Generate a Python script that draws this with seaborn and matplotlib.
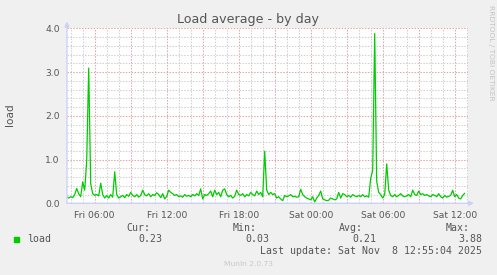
import matplotlib
matplotlib.use("Agg")
import matplotlib.pyplot as plt
import matplotlib.dates as mdates
import matplotlib.patches as mpatches
import matplotlib.ticker as mticker
import seaborn as sns
import pandas as pd
import numpy as np

# ---- data (5-min RRD samples read at ~10 min resolution) ----
start_time = "2025-11-07 03:40"
sample_step = "10min"
load_values = [
    0.14, 0.12,                              # Fri 03:40-03:50
    0.15, 0.13, 0.20, 0.34, 0.22, 0.15,      # 04
    0.49, 0.30, 0.97, 3.09, 0.45, 0.22,      # 05
    0.18, 0.20, 0.17, 0.46, 0.20, 0.12,      # 06
    0.18, 0.12, 0.20, 0.14, 0.72, 0.20,      # 07
    0.12, 0.15, 0.18, 0.13, 0.20, 0.16,      # 08
    0.25, 0.18, 0.15, 0.20, 0.14, 0.18,      # 09
    0.30, 0.20, 0.17, 0.22, 0.15, 0.20,      # 10
    0.18, 0.24, 0.20, 0.13, 0.22, 0.10,      # 11
    0.16, 0.30, 0.25, 0.22, 0.18, 0.20,      # 12
    0.15, 0.17, 0.14, 0.20, 0.16, 0.18,      # 13
    0.15, 0.20, 0.17, 0.22, 0.18, 0.33,      # 14
    0.10, 0.20, 0.18, 0.22, 0.28, 0.15,      # 15
    0.30, 0.20, 0.25, 0.15, 0.30, 0.33,      # 16
    0.20, 0.15, 0.18, 0.12, 0.16, 0.30,      # 17
    0.20, 0.18, 0.22, 0.15, 0.20, 0.17,      # 18
    0.25, 0.20, 0.17, 0.28, 0.20, 0.25,      # 19
    0.15, 1.19, 0.30, 0.20, 0.25, 0.20,      # 20
    0.22, 0.12, 0.15, 0.10, 0.06, 0.18,      # 21
    0.15, 0.17, 0.20, 0.15, 0.16, 0.14,      # 22
    0.15, 0.32, 0.20, 0.15, 0.12, 0.10,      # 23
    0.08, 0.15, 0.03, 0.12, 0.18, 0.28,      # Sat 00
    0.10, 0.08, 0.06, 0.07, 0.12, 0.10,      # 01
    0.08, 0.10, 0.25, 0.12, 0.22, 0.20,      # 02
    0.15, 0.18, 0.14, 0.20, 0.17, 0.15,      # 03
    0.18, 0.15, 0.20, 0.15, 0.17, 0.14,      # 04
    0.57, 0.75, 3.88, 0.50, 0.25, 0.20,      # 05
    0.12, 0.20, 0.90, 0.30, 0.18, 0.15,      # 06
    0.20, 0.15, 0.18, 0.22, 0.17, 0.15,      # 07
    0.17, 0.20, 0.15, 0.30, 0.20, 0.18,      # 08
    0.28, 0.20, 0.22, 0.18, 0.20, 0.17,      # 09
    0.15, 0.20, 0.18, 0.15, 0.22, 0.15,      # 10
    0.12, 0.18, 0.14, 0.16, 0.18, 0.30,      # 11
    0.15, 0.20, 0.12, 0.10, 0.18, 0.23,      # 12
]
view_start = "2025-11-07 03:41:30"
view_end = "2025-11-08 13:06:30"
y_ticks = [0.0, 1.0, 2.0, 3.0, 4.0]
series_name = "load"
stat_labels = ["Cur:", "Min:", "Avg:", "Max:"]
stat_values = ["0.23", "0.03", "0.21", "3.88"]
title = "Load average - by day"
last_update = "Last update: Sat Nov  8 12:55:04 2025"
footer = "Munin 2.0.73"
side_text = "RRDTOOL / TOBI OETIKER"

times = pd.date_range(start_time, periods=len(load_values), freq=sample_step)
df = pd.DataFrame({"time": times, "load": load_values})

# ---- style ----
sns.set_style("white")
plt.rcParams["font.family"] = ["DejaVu Sans"]
W, H = 497, 275
TXT = "#555555"
AXC = "#ccd2f6"
MGRID = "#e2a6a6"
GRID = "#d0d0d0"
GREEN = "#00cc00"

fig = plt.figure(figsize=(W / 100, H / 100), dpi=100, facecolor="#f0f0f0")
L, R, T, B = 67, 468, 28.3, 203.3
ax = fig.add_axes([L / W, (H - B) / H, (R - L) / W, (B - T) / H])
ax.set_facecolor("white")

sns.lineplot(data=df, x="time", y="load", ax=ax, color=GREEN, linewidth=0.9)

ax.set_xlim(pd.Timestamp(view_start), pd.Timestamp(view_end))
ax.set_ylim(0, 4)
ax.set_xlabel("")
ax.set_ylabel("")

ax.xaxis.set_major_locator(mdates.HourLocator(byhour=range(0, 24, 3)))
ax.xaxis.set_minor_locator(mdates.HourLocator())


def fmt(x, pos):
    d = mdates.num2date(x)
    if d.hour % 6 == 0:
        return d.strftime("%a %H:%M")
    return ""


ax.xaxis.set_major_formatter(mticker.FuncFormatter(fmt))
ax.set_yticks(y_ticks)
ax.set_yticklabels([f"{v:.1f}" for v in y_ticks])
ax.yaxis.set_minor_locator(mticker.MultipleLocator(0.2))

dash = (0, (1.4, 1.4))
ax.grid(which="major", color=MGRID, linestyle=dash, linewidth=0.75)
ax.grid(which="minor", color=GRID, linestyle=dash, linewidth=0.75)
ax.set_axisbelow(True)
for s in ax.spines.values():
    s.set_visible(False)

ax.tick_params(axis="x", which="major", labelsize=6.6, labelcolor=TXT, length=2,
               color=MGRID, direction="out", pad=3.2)
ax.tick_params(axis="x", which="minor", length=1.5, color=GRID, direction="out")
ax.tick_params(axis="y", which="major", labelsize=6.6, labelcolor=TXT, length=2,
               color=MGRID, direction="out", pad=3.2)
ax.tick_params(axis="y", which="minor", length=1.5, color=GRID, direction="out")

# axis lines with arrows
arrow = dict(arrowstyle="-|>", color=AXC, lw=1.0, mutation_scale=7,
             shrinkA=0, shrinkB=0)
ax.annotate("", xy=(474, H - B), xytext=(L, H - B), xycoords="figure pixels",
            textcoords="figure pixels", arrowprops=arrow, annotation_clip=False)
ax.annotate("", xy=(L, H - 21.5), xytext=(L, H - B), xycoords="figure pixels",
            textcoords="figure pixels", arrowprops=arrow, annotation_clip=False)

# texts
fig.text(248 / W, 1 - 19.5 / H, title, ha="center", va="center", fontsize=9.1, color=TXT)
fig.text(10 / W, 1 - 115 / H, series_name, rotation=90, ha="center", va="center",
         fontsize=7.6, color=TXT)
fig.text(491.5 / W, 1 - 53 / H, side_text, rotation=270, ha="center", va="center",
         fontsize=5.4, color="#c4c4c4")

mono = dict(family="DejaVu Sans Mono", fontsize=7.15, color=TXT, va="center")
hdr_right = [150, 257, 363, 470]
val_right = [162.3, 269, 376, 482]
for lab, v, hx, vx in zip(stat_labels, stat_values, hdr_right, val_right):
    fig.text(hx / W, 1 - 228.3 / H, lab, ha="right", **mono)
    fig.text(vx / W, 1 - 239.3 / H, v, ha="right", **mono)
fig.text(26.7 / W, 1 - 239.3 / H, series_name, ha="left", **mono)
fig.text(482 / W, 1 - 251 / H, last_update, ha="right", **mono)
fig.patches.append(mpatches.Rectangle((14 / W, 1 - 241.8 / H), 5.3 / W, 4.6 / H,
                                      transform=fig.transFigure, color=GREEN))
fig.text(248 / W, 1 - 264 / H, footer, ha="center", va="center", fontsize=5.4,
         color="#c8c8c8")

fig.savefig("out.png", dpi=100, facecolor=fig.get_facecolor())
